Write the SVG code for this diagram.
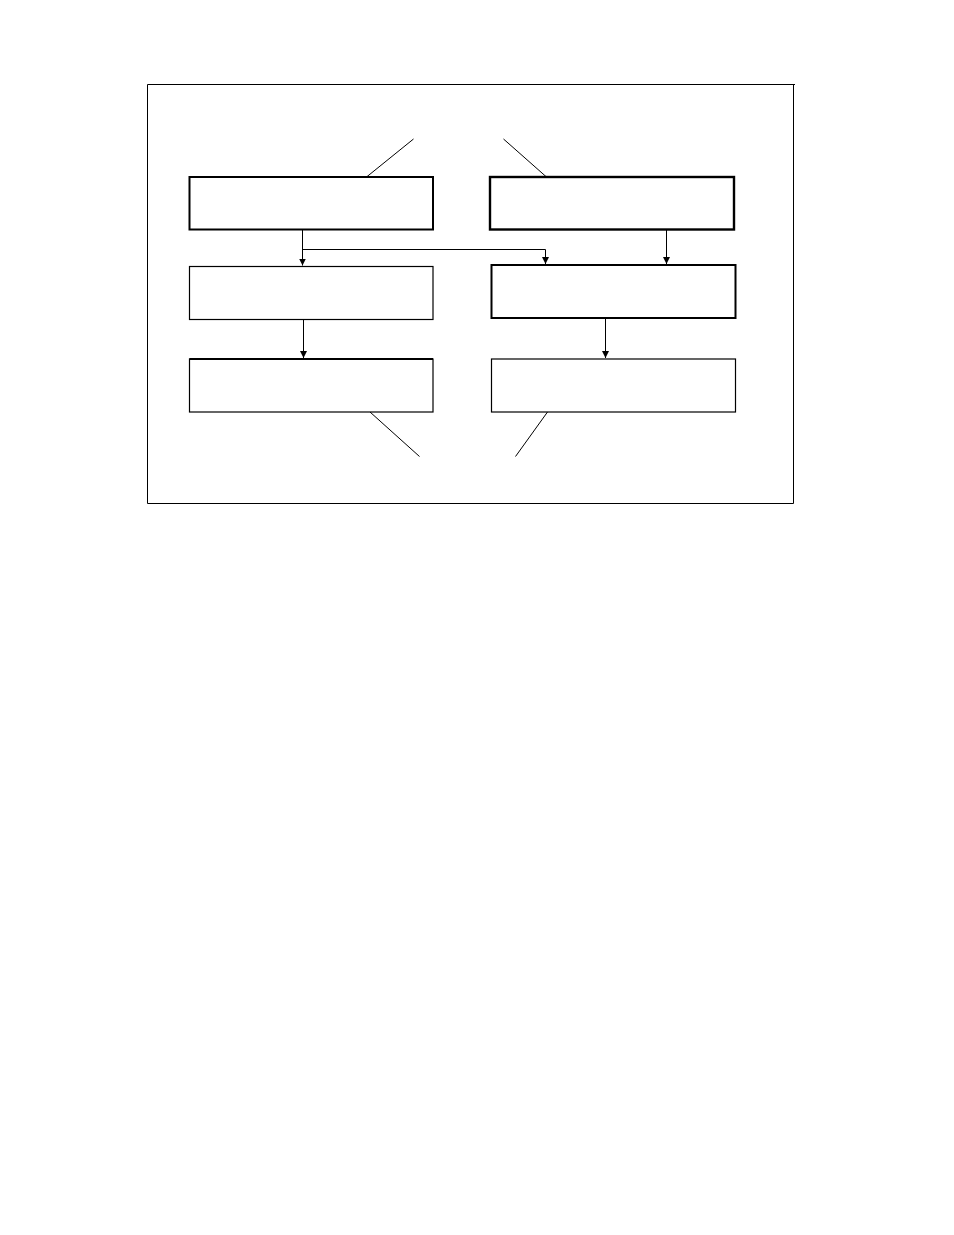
<svg xmlns="http://www.w3.org/2000/svg" width="954" height="1235" viewBox="0 0 954 1235">
<style>
.box{fill:#fff;stroke:#000;stroke-width:2}
.thin{fill:#fff;stroke:#000;stroke-width:1.2}
.ln{fill:none;stroke:#000;stroke-width:1}
</style>
<defs>
<marker id="ah" markerWidth="8" markerHeight="8" refX="4" refY="7" orient="auto" markerUnits="userSpaceOnUse" viewBox="0 0 8 8">
<path d="M0.5,0 L7.5,0 L4,7 Z" fill="#000" transform="rotate(-90 4 4)"/>
</marker>
<marker id="arr" markerWidth="8" markerHeight="8" refX="7" refY="4" orient="auto" markerUnits="userSpaceOnUse">
<path d="M0,0.5 L7,4 L0,7.5 Z" fill="#000"/>
</marker>
</defs>
<rect width="954" height="1235" fill="#fff"/>
<g id="frame">
<path class="ln" d="M147.5,84.5 H795 M147.5,84.5 V503.5 H793.5 V84.5"/>
</g>
<g id="node1"><rect class="box" x="189.5" y="177" width="243.5" height="52.5"/></g>
<g id="node2"><rect class="box" x="490" y="177" width="244" height="52.5" style="stroke-width:2.4"/></g>
<g id="node3"><rect class="thin" x="189.5" y="266.5" width="243.5" height="53"/></g>
<g id="node4"><rect class="box" x="491.5" y="265" width="244" height="53"/></g>
<g id="node5"><rect class="thin" x="189.5" y="359" width="243.5" height="53"/><line x1="189.5" y1="359" x2="433" y2="359" stroke="#000" stroke-width="2"/></g>
<g id="node6"><rect class="thin" x="491.5" y="359" width="244" height="53"/></g>
<g id="connectors">
<path class="ln" d="M302.5,230 V265.5" marker-end="url(#arr)"/>
<path class="ln" d="M302.5,249.5 H545.5 V264" marker-end="url(#arr)"/>
<path class="ln" d="M666.5,230 V264" marker-end="url(#arr)"/>
<path class="ln" d="M303.5,320 V358" marker-end="url(#arr)"/>
<path class="ln" d="M605.5,318 V358" marker-end="url(#arr)"/>
<path class="ln" d="M413.5,139 L366.5,177"/>
<path class="ln" d="M503.5,139 L546.5,177"/>
<path class="ln" d="M370,412 L419.5,456.5"/>
<path class="ln" d="M547.5,412 L515.5,456.5"/>
</g>
</svg>
